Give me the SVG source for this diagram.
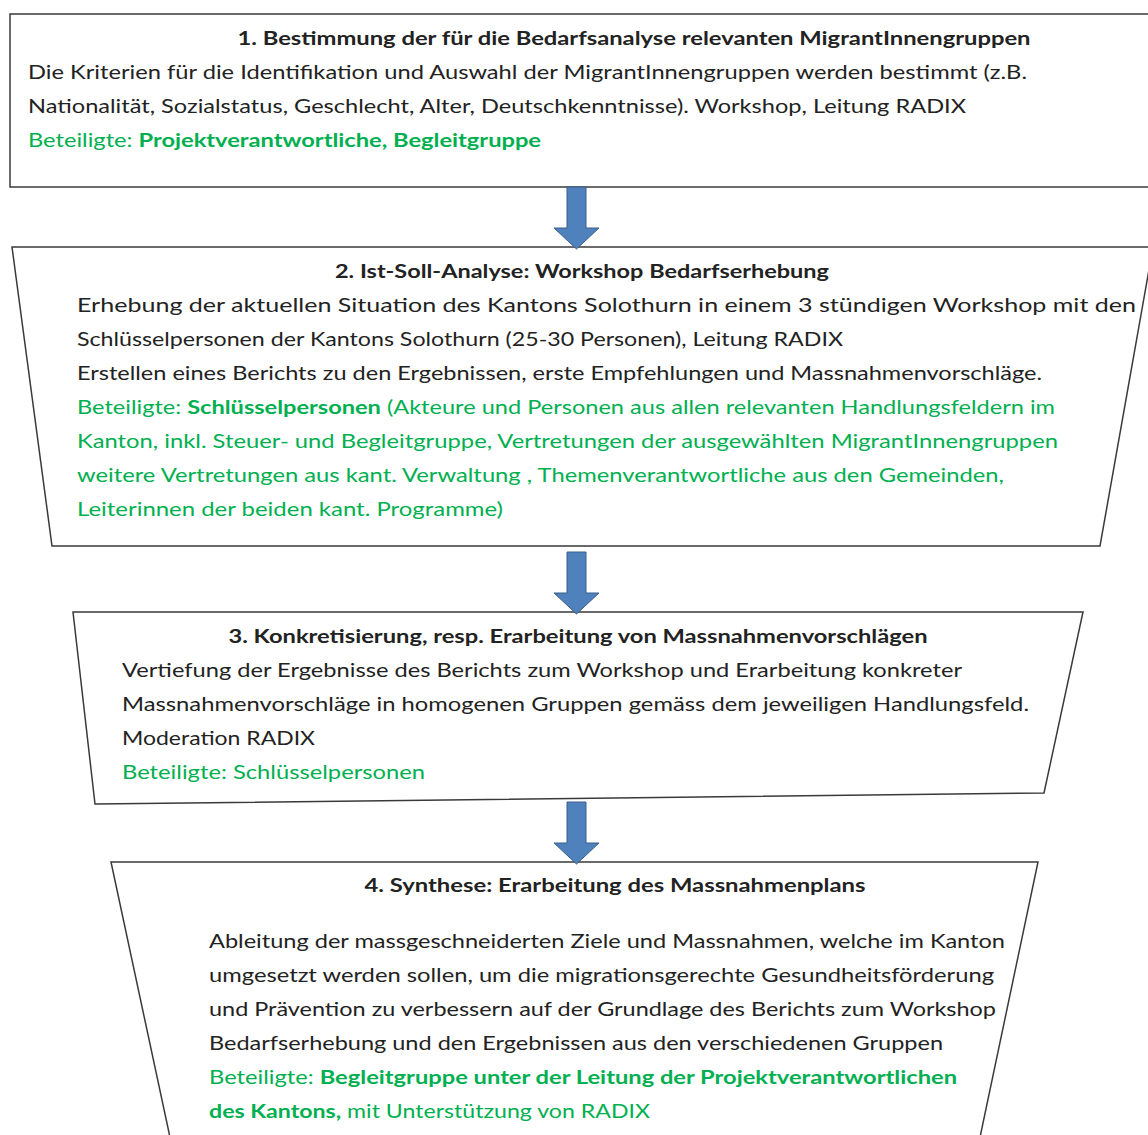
<svg xmlns="http://www.w3.org/2000/svg" xmlns:xlink="http://www.w3.org/1999/xlink" width="1148" height="1135" viewBox="0 0 1148 1135" xml:space="preserve">
<style>
.box{fill:#fff;stroke:#3a3a3a;stroke-width:1.5}
text{font-family:Lato,"Liberation Sans",Arial,sans-serif;font-size:19px;fill:#222}
.t{font-weight:bold;text-anchor:middle}
.g{fill:#00B050}
.b{font-weight:bold}
.arrow{fill:#4F81BD;stroke:#3A5F8B;stroke-width:1}
</style>
<defs>
<path id="arr" class="arrow" d="M567,187 H586 V228 H599 L576.5,249 L554,228 H567 Z"/>
</defs>
<rect width="1148" height="1135" fill="#fff"/>
<g id="node1">
<rect class="box" x="10" y="14" width="1145" height="173"/>
<text class="t" x="634" y="45" textLength="793" lengthAdjust="spacingAndGlyphs">1. Bestimmung der für die Bedarfsanalyse relevanten MigrantInnengruppen</text>
<text x="28" y="79" textLength="999" lengthAdjust="spacingAndGlyphs">Die Kriterien für die  Identifikation und Auswahl der MigrantInnengruppen werden bestimmt (z.B.</text>
<text x="28" y="113" textLength="938" lengthAdjust="spacingAndGlyphs">Nationalität, Sozialstatus, Geschlecht, Alter, Deutschkenntnisse). Workshop,  Leitung RADIX</text>
<text class="g" x="28" y="147" textLength="513" lengthAdjust="spacingAndGlyphs">Beteiligte: <tspan class="b">Projektverantwortliche, Begleitgruppe</tspan></text>
</g>
<g id="node2">
<polygon class="box" points="12,247 1153,247 1100,546 52,546"/>
<text class="t" x="582" y="278" textLength="494" lengthAdjust="spacingAndGlyphs">2. Ist-Soll-Analyse: Workshop Bedarfserhebung</text>
<text x="77" y="312" textLength="1059" lengthAdjust="spacingAndGlyphs">Erhebung der aktuellen Situation des Kantons Solothurn in einem 3 stündigen Workshop mit den</text>
<text x="77" y="346" textLength="766" lengthAdjust="spacingAndGlyphs">Schlüsselpersonen der Kantons Solothurn (25-30 Personen), Leitung RADIX</text>
<text x="77" y="380" textLength="965" lengthAdjust="spacingAndGlyphs">Erstellen eines Berichts zu den Ergebnissen, erste Empfehlungen und Massnahmenvorschläge.</text>
<text class="g" x="77" y="414" textLength="978" lengthAdjust="spacingAndGlyphs">Beteiligte: <tspan class="b">Schlüsselpersonen</tspan> (Akteure und Personen aus allen relevanten Handlungsfeldern im</text>
<text class="g" x="77" y="448" textLength="981" lengthAdjust="spacingAndGlyphs">Kanton, inkl. Steuer- und Begleitgruppe, Vertretungen der ausgewählten  MigrantInnengruppen</text>
<text class="g" x="77" y="482" textLength="927" lengthAdjust="spacingAndGlyphs">weitere Vertretungen aus kant. Verwaltung , Themenverantwortliche aus den Gemeinden,</text>
<text class="g" x="77" y="516" textLength="426" lengthAdjust="spacingAndGlyphs">Leiterinnen der beiden kant. Programme)</text>
</g>
<g id="node3">
<polygon class="box" points="73,612 1083,612 1044,793 95,804"/>
<text class="t" x="578" y="643" textLength="699" lengthAdjust="spacingAndGlyphs">3. Konkretisierung, resp. Erarbeitung von Massnahmenvorschlägen</text>
<text x="122" y="677" textLength="840" lengthAdjust="spacingAndGlyphs">Vertiefung der Ergebnisse des Berichts zum Workshop und Erarbeitung  konkreter</text>
<text x="122" y="711" textLength="907" lengthAdjust="spacingAndGlyphs">Massnahmenvorschläge in homogenen Gruppen  gemäss dem jeweiligen Handlungsfeld.</text>
<text x="122" y="745" textLength="193" lengthAdjust="spacingAndGlyphs">Moderation RADIX</text>
<text class="g" x="122" y="779" textLength="303" lengthAdjust="spacingAndGlyphs">Beteiligte: Schlüsselpersonen</text>
</g>
<g id="node4">
<polygon class="box" points="111,862 1038,862 979,1142 171,1142"/>
<text class="t" x="615" y="892" textLength="501" lengthAdjust="spacingAndGlyphs">4. Synthese: Erarbeitung des Massnahmenplans</text>
<text x="209" y="948" textLength="796" lengthAdjust="spacingAndGlyphs">Ableitung der massgeschneiderten Ziele und Massnahmen, welche im Kanton</text>
<text x="209" y="982" textLength="785" lengthAdjust="spacingAndGlyphs">umgesetzt werden sollen, um die migrationsgerechte Gesundheitsförderung</text>
<text x="209" y="1016" textLength="787" lengthAdjust="spacingAndGlyphs">und Prävention zu verbessern auf der Grundlage des Berichts zum Workshop</text>
<text x="209" y="1050" textLength="734" lengthAdjust="spacingAndGlyphs">Bedarfserhebung und den Ergebnissen aus den verschiedenen Gruppen</text>
<text class="g" x="209" y="1084" textLength="748" lengthAdjust="spacingAndGlyphs">Beteiligte: <tspan class="b">Begleitgruppe unter der Leitung der Projektverantwortlichen</tspan></text>
<text class="g" x="209" y="1118" textLength="441" lengthAdjust="spacingAndGlyphs"><tspan class="b">des Kantons,</tspan> mit Unterstützung von RADIX</text>
</g>
<g id="connectors">
<use xlink:href="#arr"/>
<use xlink:href="#arr" transform="translate(0,365)"/>
<use xlink:href="#arr" transform="translate(0,615)"/>
</g>
</svg>
